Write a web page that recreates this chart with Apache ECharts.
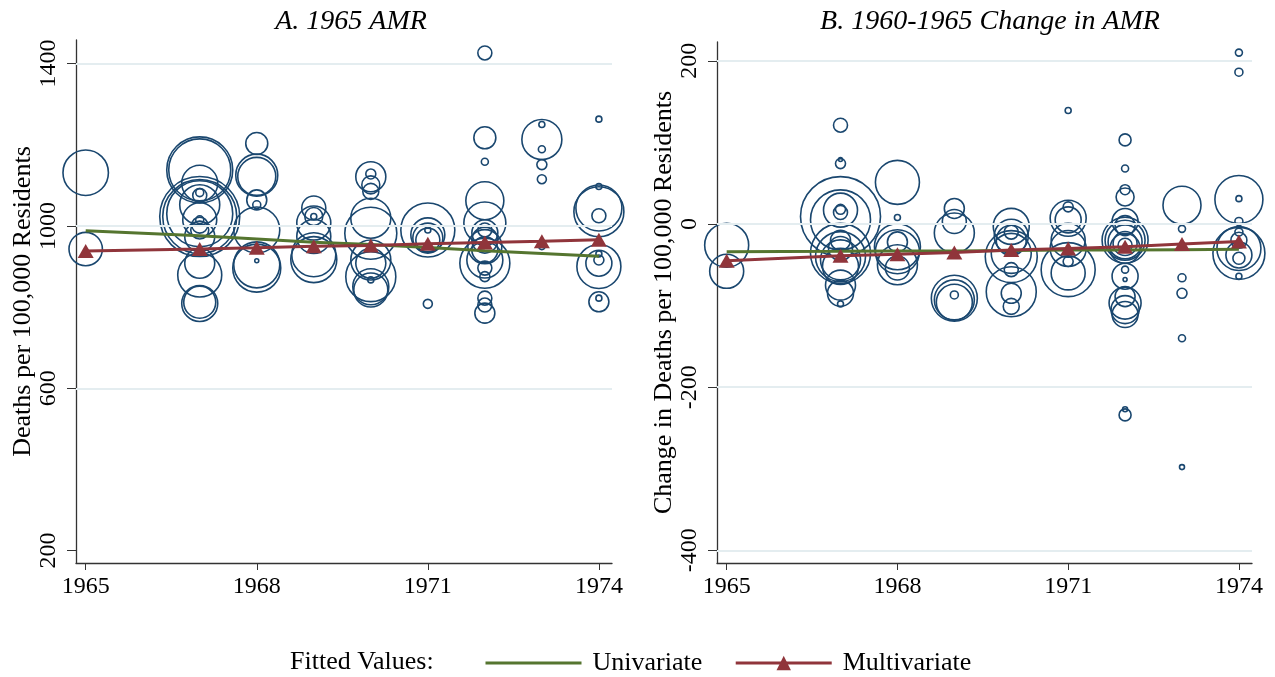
<!DOCTYPE html>
<html>
<head>
<meta charset="utf-8">
<title>AMR fitted values</title>
<script src="https://cdn.jsdelivr.net/npm/echarts@6/dist/echarts.min.js"></script>
<style>
  html, body { margin: 0; padding: 0; background: #fff; }
  #main { width: 1275px; height: 677px; }
</style>
</head>
<body>
<div id="main"></div>
<script>
// tick labels
const xTicks = [1965, 1968, 1971, 1974];
const amrTicks = [200, 600, 1000, 1400];
const chgTicks = [-400, -200, 0, 200];

// fitted values by year
const fitYears = [1965, 1967, 1968, 1969, 1970, 1971, 1972, 1973, 1974];
const amrUni = [988, 976, 968, 960, 954, 947, 939, 932, 925];
const amrMulti = [938, 943, 946, 950, 952, 956, 959, 962, 966];
const chgUni = [-34, -33.5, -33, -33, -32.5, -32, -32, -31.5, -31];
const chgMulti = [-45, -39, -37, -35, -32, -30, -28, -24.5, -21.5];

// panel A: 1965 AMR, one entry per county (year of program start, value, population weight)
const amrYear = [
  1965, 1965,
  1967, 1967, 1967, 1967, 1967, 1967, 1967, 1967, 1967, 1967, 1967, 1967, 1967, 1967, 1967, 1967, 1967, 1967,
  1968, 1968, 1968, 1968, 1968, 1968, 1968, 1968, 1968,
  1969, 1969, 1969, 1969, 1969, 1969, 1969,
  1970, 1970, 1970, 1970, 1970, 1970, 1970, 1970, 1970, 1970, 1970, 1970,
  1971, 1971, 1971, 1971, 1971, 1971,
  1972, 1972, 1972, 1972, 1972, 1972, 1972, 1972, 1972, 1972, 1972, 1972, 1972, 1972, 1972, 1972, 1972,
  1973, 1973, 1973, 1973, 1973, 1973,
  1974, 1974, 1974, 1974, 1974, 1974, 1974, 1974, 1974, 1974, 1974
];
const amrValue = [
  1131, 943,
  1138, 1138, 1105, 1082, 1075, 1023, 1023, 1030, 1052, 1015, 1015, 1002, 974, 908, 879, 809, 812, 990,
  1203, 1125, 1122, 1064, 1052, 990, 904, 896, 914,
  1044, 1023, 1023, 1007, 974, 929, 917,
  1121, 1128, 1101, 1085, 1019, 982, 916, 908, 875, 867, 842, 850,
  990, 978, 970, 965, 990, 808,
  1426, 1217, 1158, 1062, 1007, 983, 990, 965, 949, 941, 908, 916, 896, 875, 822, 805, 785,
  1213, 1250, 1189, 1151, 1115, 949,
  1263, 1035, 1044, 1097, 1025, 900, 908, 916, 931, 813, 822
];
const amrPop = [
  2064, 1116,
  4356, 3844, 1296, 64, 196, 6400, 5476, 4356, 1600, 1156, 64, 256, 900, 900, 1936, 1296, 1024, 324,
  484, 1764, 1444, 400, 64, 2116, 2116, 2304, 16,
  576, 324, 36, 1156, 1156, 1936, 2116,
  900, 100, 324, 256, 1600, 2704, 1600, 900, 2500, 36, 1156, 1296,
  2916, 1156, 900, 576, 36, 81,
  196, 484, 49, 1444, 1764, 676, 196, 676, 1156, 676, 2500, 1296, 196, 100, 196, 196, 400,
  1600, 36, 49, 100, 81, 36,
  36, 2500, 2116, 36, 196, 1936, 676, 100, 36, 400, 36
];

// panel B: 1960-1965 change in AMR
const chgYear = [
  1965, 1965,
  1967, 1967, 1967, 1967, 1967, 1967, 1967, 1967, 1967, 1967, 1967, 1967, 1967, 1967, 1967, 1967, 1967,
  1968, 1968, 1968, 1968, 1968, 1968, 1968,
  1969, 1969, 1969, 1969, 1969, 1969, 1969,
  1970, 1970, 1970, 1970, 1970, 1970, 1970, 1970, 1970, 1970,
  1971, 1971, 1971, 1971, 1971, 1971, 1971, 1971, 1971,
  1972, 1972, 1972, 1972, 1972, 1972, 1972, 1972, 1972, 1972, 1972, 1972, 1972, 1972, 1972, 1972, 1972, 1972, 1972, 1972, 1972,
  1973, 1973, 1973, 1973, 1973, 1973,
  1974, 1974, 1974, 1974, 1974, 1974, 1974, 1974, 1974, 1974, 1974, 1974
];
const chgValue = [
  -26, -58,
  121, 74, 79, 9, 5, 17, 18, 14, -36, -40, -44, -52, -75, -85, -98, -30, -20,
  51, 8, -28, -34, -22, -54, -50,
  19, 3, -11, -87, -91, -93, -96,
  -3, -15, -20, -10, -36, -40, -56, -83, -85, -101,
  139, 21, 7, 5, -20, -46, -56, -60, -30,
  103, 68, 42, 33, 3, -2, -20, -20, -22, -24, -26, -30, -56, -64, -68, -89, -97, -105, -111, -234, -227,
  23, -6, -66, -85, -140, -298,
  210, 186, 31, 30, 3, -30, -36, -38, -42, -64, -20, -10
];
const chgPop = [
  1936, 1156,
  196, 100, 16, 6400, 3600, 1156, 100, 196, 3600, 2500, 1600, 1296, 900, 676, 36, 576, 400,
  1936, 36, 2116, 1936, 400, 576, 1600,
  400, 576, 1600, 64, 2116, 1600, 1296,
  1296, 1156, 900, 196, 1600, 2704, 196, 2500, 400, 256,
  36, 100, 1296, 676, 1156, 100, 2916, 1156, 1296,
  144, 49, 100, 324, 676, 400, 2116, 1600, 1156, 576, 196, 900, 49, 676, 16, 400, 1024, 784, 676, 144, 25,
  1444, 49, 64, 100, 49, 25,
  49, 64, 36, 2304, 64, 1936, 2704, 676, 144, 36, 256, 64
];

const serif = 'Liberation Serif';
const navy = '#1a476f';
const green = '#55752f';
const maroon = '#90353b';

function rows(xs, ys, ws) {
  const out = [];
  for (let i = 0; i < xs.length; i++) {
    out.push([xs[i], ys[i], ws[i]]);
  }
  return out;
}

function pairs(xs, ys) {
  return xs.map(function (x, i) { return [x, ys[i]]; });
}

// plain numbers, no thousands separator
function plain(v) { return String(v); }

function xAxisFor(idx) {
  return {
    type: 'value', gridIndex: idx,
    min: 1964.83, max: 1974.23,
    axisLine: { show: true, onZero: false, lineStyle: { color: '#333', width: 1.3 } },
    axisTick: { show: true, length: 7, customValues: xTicks, lineStyle: { color: '#333' } },
    axisLabel: { customValues: xTicks, formatter: plain, margin: 12, fontFamily: serif, fontSize: 24, color: '#000' },
    splitLine: { show: false }
  };
}

function yAxisFor(idx, min, max, ticks, name) {
  return {
    type: 'value', gridIndex: idx,
    min: min, max: max,
    name: name, nameLocation: 'middle', nameRotate: 90, nameGap: 40,
    nameTextStyle: { fontFamily: serif, fontSize: 26, color: '#000' },
    axisLine: { show: true, lineStyle: { color: '#333', width: 1.3 } },
    axisTick: { show: true, length: 9, customValues: ticks, lineStyle: { color: '#333' } },
    axisLabel: { customValues: ticks, formatter: plain, rotate: 90, margin: 15, fontFamily: serif, fontSize: 24, color: '#000' },
    splitLine: { show: false }
  };
}

function gridLines(vals) {
  return {
    silent: true, symbol: 'none', animation: false,
    label: { show: false },
    lineStyle: { color: '#e4edf0', width: 2, type: 'solid' },
    data: vals.map(function (v) { return { yAxis: v }; })
  };
}

function bubbles(idx, data, lines) {
  return {
    type: 'scatter', xAxisIndex: idx, yAxisIndex: idx,
    data: data,
    symbol: 'circle',
    symbolSize: function (d) { return Math.sqrt(d[2]); },
    itemStyle: { color: 'rgba(255,255,255,0)', borderColor: navy, borderWidth: 1.6, opacity: 1 },
    markLine: gridLines(lines),
    z: 2
  };
}

function uniLine(idx, vals) {
  return {
    name: 'Univariate', type: 'line', xAxisIndex: idx, yAxisIndex: idx,
    data: pairs(fitYears, vals),
    symbol: 'none',
    lineStyle: { color: green, width: 3 },
    itemStyle: { color: green },
    z: 3
  };
}

function multiLine(idx, vals) {
  return {
    name: 'Multivariate', type: 'line', xAxisIndex: idx, yAxisIndex: idx,
    data: pairs(fitYears, vals),
    symbol: 'triangle', symbolSize: [16, 14],
    lineStyle: { color: maroon, width: 3 },
    itemStyle: { color: maroon },
    z: 4
  };
}

const option = {
  animation: false,
  title: [
    { text: 'A. 1965 AMR', left: 346, top: 3, textAlign: 'center',
      textStyle: { fontFamily: serif, fontStyle: 'italic', fontWeight: 'normal', fontSize: 28, color: '#000' } },
    { text: 'B. 1960-1965 Change in AMR', left: 985, top: 3, textAlign: 'center',
      textStyle: { fontFamily: serif, fontStyle: 'italic', fontWeight: 'normal', fontSize: 28, color: '#000' } }
  ],
  grid: [
    { left: 76, top: 40, width: 536, height: 523 },
    { left: 717, top: 42, width: 535, height: 521 }
  ],
  xAxis: [xAxisFor(0), xAxisFor(1)],
  yAxis: [
    yAxisFor(0, 169.5, 1458, amrTicks, 'Deaths per 100,000 Residents'),
    yAxisFor(1, -415.5, 223, chgTicks, 'Change in Deaths per 100,000 Residents')
  ],
  legend: {
    data: [
      { name: 'Univariate', itemStyle: { opacity: 0 }, lineStyle: { width: 3 } },
      { name: 'Multivariate', lineStyle: { width: 3 } }
    ],
    left: 479, top: 645,
    itemWidth: 96, itemHeight: 18, itemGap: 32,
    textStyle: { fontFamily: serif, fontSize: 26, color: '#000', padding: [0, 0, 0, 6] },
    selectedMode: false
  },
  graphic: [
    { type: 'text', left: 290, top: 649,
      style: { text: 'Fitted Values:', font: '26px "Liberation Serif"', fill: '#000' } }
  ],
  series: [
    bubbles(0, rows(amrYear, amrValue, amrPop), [600, 1000, 1400]),
    uniLine(0, amrUni),
    multiLine(0, amrMulti),
    bubbles(1, rows(chgYear, chgValue, chgPop), [-400, -200, 0, 200]),
    uniLine(1, chgUni),
    multiLine(1, chgMulti)
  ]
};

const chart = echarts.init(document.getElementById('main'));
chart.setOption(option);
</script>
</body>
</html>
